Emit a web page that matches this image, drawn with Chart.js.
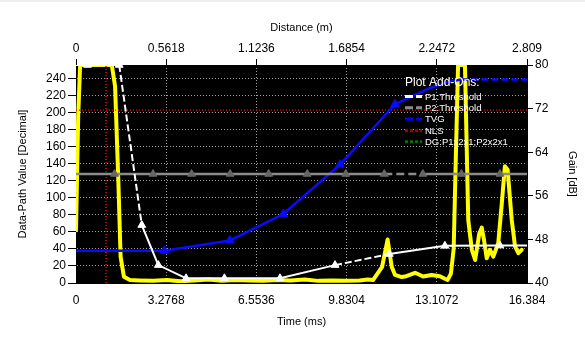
<!DOCTYPE html>
<html>
<head>
<meta charset="utf-8">
<script src="https://cdn.jsdelivr.net/npm/chart.js@4"></script>
<style>
  html, body { margin: 0; padding: 0; background: #fff; }
  #wrap { width: 585px; height: 345px; position: relative; }
</style>
</head>
<body>
<div id="wrap"><canvas id="c" width="585" height="345"></canvas></div>
<script>
// Axis tick values
const timeTicks = [0, 3.2768, 6.5536, 9.8304, 13.1072, 16.384];
const distanceTicks = [0, 0.5618, 1.1236, 1.6854, 2.2472, 2.809];
const valueTicks = [0, 20, 40, 60, 80, 100, 120, 140, 160, 180, 200, 220, 240];
const gainTicks = [40, 48, 56, 64, 72, 80];

// Received data-path signal (yellow trace)
const signalTime = [0, 0.08, 0.15, 1.30, 1.42, 1.54, 1.62, 1.74, 1.96, 2.3, 2.8, 3.3, 3.8, 4.3, 4.8, 5.3, 5.8, 6.3, 6.8, 7.3, 7.8, 8.3, 8.8, 9.3, 9.8, 10.3, 10.6, 10.79, 11.12, 11.32, 11.47, 11.59, 11.83, 12.0, 12.32, 12.61, 12.92, 13.22, 13.40, 13.50, 13.62, 13.72, 13.80, 13.88, 14.13, 14.25, 14.38, 14.50, 14.65, 14.74, 14.82, 14.92, 15.04, 15.16, 15.34, 15.47, 15.58, 15.68, 15.83, 15.95, 16.07, 16.19];
const signalValue = [62, 196, 256, 256, 231, 118, 31, 7.4, 3.5, 3, 2.5, 3.5, 2, 3, 4, 2.5, 3.5, 3, 2.5, 3.5, 3, 4, 2.5, 3, 2.5, 3, 4, 3.5, 19, 51, 19, 9.5, 7, 8, 12, 7.6, 9.5, 8, 5, 3.5, 11, 40, 150, 256, 256, 74, 39, 27, 58, 65, 51, 29, 39, 31, 47, 94, 137, 133, 74, 43, 35, 39];

// P1 threshold (white)
const p1Time = [0, 0.42, 1.57, 2.39, 2.99, 4.0, 5.39, 7.41, 9.41, 11.38, 13.4, 15.4, 16.384];
const p1Value = [256, 256, 256, 68, 21, 5.5, 5.5, 5.5, 21, 34, 43.6, 44, 44];
const p1Marked = [0, 1, 1, 1, 1, 1, 1, 1, 1, 1, 1, 1, 0];
const p1DashedSegments = [2, 8];

// P2 threshold (gray)
const p2Time = [0, 1.4, 2.8, 4.2, 5.6, 7.0, 8.4, 9.8, 11.2, 12.6, 14.0, 15.4, 16.384];
const p2Value = [128, 128, 128, 128, 128, 128, 128, 128, 128, 128, 128, 128, 128];
const p2Marked = [0, 1, 1, 1, 1, 1, 1, 1, 1, 1, 1, 1, 0];
const p2DashedSegments = [8];

// TVG curve (blue)
const tvgTime = [0, 3.21, 5.59, 7.53, 9.59, 11.59, 12.86, 13.5, 14.0, 16.384];
const tvgValue = [38, 38, 50, 81, 139, 210, 229, 236, 239, 239];
const tvgMarked = [0, 1, 1, 1, 1, 1, 0, 0, 0, 0];
const tvgDashedSegments = [8];

// NLS level and time marker (red)
const nlsLevel = 203;
const markerTime = 1.09;

// Legend entries
const legendTitle = 'Plot Add-Ons:';
const legendLabels = ['P1:Threshold', 'P2:Threshold', 'TVG', 'NLS', 'DG:P1x2x1;P2x2x1'];
const legendColors = ['#ffffff', '#8c8c8c', '#0000ff', '#a00000', '#007000'];

const toPoints = (xs, ys) => xs.map((x, i) => ({ x, y: ys[i] }));
const dashFor = (segs, dash) => ctx => segs.includes(ctx.p0DataIndex) ? dash : undefined;

const FONT = '"Liberation Sans", Arial, sans-serif';

const backdrop = {
  id: 'backdrop',
  beforeDraw(chart) {
    const { ctx, chartArea: a } = chart;
    ctx.save();
    ctx.fillStyle = '#f0f0f0';
    ctx.fillRect(0, 0, chart.width, 2);
    ctx.fillStyle = '#000';
    ctx.fillRect(a.left, a.top, a.right - a.left, a.bottom - a.top);
    ctx.restore();
  }
};

const addOnLegend = {
  id: 'addOnLegend',
  afterDatasetsDraw(chart) {
    const { ctx } = chart;
    ctx.save();
    ctx.fillStyle = '#fff';
    ctx.textBaseline = 'alphabetic';
    ctx.font = '12px ' + FONT;
    ctx.fillText(legendTitle, 405, 86);
    ctx.font = '9.5px ' + FONT;
    legendLabels.forEach((label, i) => {
      const y = 96.5 + i * 11.3;
      ctx.strokeStyle = legendColors[i];
      ctx.lineWidth = 3;
      ctx.setLineDash(i < 3 ? [8, 3] : [3, 2]);
      ctx.beginPath();
      ctx.moveTo(405, y);
      ctx.lineTo(422, y);
      ctx.stroke();
      ctx.setLineDash([]);
      ctx.fillStyle = '#fff';
      ctx.fillText(label, 425, y + 3.3);
    });
    ctx.restore();
  }
};

const fixTicks = values => scale => { scale.ticks = values.map(v => ({ value: v })); };

new Chart(document.getElementById('c'), {
  type: 'line',
  data: {
    datasets: [
      {
        data: toPoints(p1Time, p1Value),
        borderColor: '#ffffff', borderWidth: 2,
        pointStyle: 'triangle', pointRadius: p1Marked.map(m => m ? 4.5 : 0),
        pointBackgroundColor: '#ffffff', pointBorderColor: '#ffffff', pointBorderWidth: 1,
        segment: { borderDash: dashFor(p1DashedSegments, [7, 3]) }
      },
      {
        data: toPoints(p2Time, p2Value),
        borderColor: '#8c8c8c', borderWidth: 2.5,
        pointStyle: 'triangle', pointRadius: p2Marked.map(m => m ? 4.5 : 0),
        pointBackgroundColor: '#666666', pointBorderColor: '#666666', pointBorderWidth: 1,
        segment: { borderDash: dashFor(p2DashedSegments, [8, 4]) }
      },
      {
        data: toPoints(tvgTime, tvgValue),
        borderColor: '#0a0aff', borderWidth: 2.5,
        pointStyle: 'triangle', pointRadius: tvgMarked.map(m => m ? 5 : 0),
        pointBackgroundColor: '#0a0aff', pointBorderColor: '#0a0aff', pointBorderWidth: 1,
        segment: { borderDash: dashFor(tvgDashedSegments, [7, 3]) }
      },
      {
        data: [{ x: 0, y: nlsLevel }, { x: 16.384, y: nlsLevel }],
        borderColor: '#ff0000', borderWidth: 1.2, borderDash: [1, 2], pointRadius: 0
      },
      {
        data: [{ x: markerTime, y: 0 }, { x: markerTime, y: 256 }],
        borderColor: '#ff0000', borderWidth: 1.5, borderDash: [1, 2], pointRadius: 0
      },
      {
        data: toPoints(signalTime, signalValue),
        borderColor: '#ffff00', borderWidth: 4,
        borderJoinStyle: 'round', borderCapStyle: 'round', pointRadius: 0
      }
    ]
  },
  options: {
    responsive: false,
    animation: false,
    events: [],
    layout: { padding: 0 },
    plugins: { legend: { display: false }, tooltip: { enabled: false } },
    scales: {
      x: {
        type: 'linear', position: 'bottom', min: 0, max: 16.384,
        afterBuildTicks: fixTicks(timeTicks),
        afterFit: s => { s.height = 62; },
        ticks: { color: '#000', font: { family: FONT, size: 12 }, padding: 10, maxRotation: 0, autoSkip: false,
                 callback: v => String(v) },
        grid: { color: c => (c.index === 0 || c.index === timeTicks.length - 1) ? 'rgba(0,0,0,0)' : '#a0a0a0',
                lineWidth: 1, drawTicks: false },
        border: { display: true, color: '#000', dash: [1, 2] },
        title: { display: true, text: 'Time (ms)', color: '#000', font: { family: FONT, size: 11 }, padding: { top: 0, bottom: 16.7 } }
      },
      x2: {
        type: 'linear', position: 'top', min: 0, max: 2.809,
        afterBuildTicks: fixTicks(distanceTicks),
        afterFit: s => { s.height = 65; },
        ticks: { color: '#000', font: { family: FONT, size: 12 }, padding: 3, maxRotation: 0, autoSkip: false,
                 callback: v => String(v) },
        grid: { drawOnChartArea: false, tickColor: '#000', tickLength: 6, lineWidth: 1 },
        border: { display: true, color: '#000' },
        title: { display: true, text: 'Distance (m)', color: '#000', font: { family: FONT, size: 11 }, padding: { top: 21, bottom: 0 } }
      },
      y: {
        type: 'linear', position: 'left', min: 0, max: 256,
        afterBuildTicks: fixTicks(valueTicks),
        afterFit: s => { s.width = 76; },
        ticks: { color: '#000', font: { family: FONT, size: 12 }, padding: 2, autoSkip: false },
        grid: { color: c => c.index === 0 ? 'rgba(0,0,0,0)' : '#a0a0a0', tickColor: '#000', tickLength: 8,
                tickBorderDash: [], lineWidth: 1 },
        border: { display: true, color: '#000', dash: [1, 2] },
        title: { display: true, text: 'Data-Path Value [Decimal]', color: '#000', font: { family: FONT, size: 11 }, padding: { top: 16.4, bottom: 0 } }
      },
      y2: {
        type: 'linear', position: 'right', min: 40, max: 80,
        afterBuildTicks: fixTicks(gainTicks),
        afterFit: s => { s.width = 58; },
        ticks: { color: '#000', font: { family: FONT, size: 12 }, padding: 2, autoSkip: false },
        grid: { drawOnChartArea: false, tickColor: '#000', tickLength: 6, lineWidth: 1 },
        border: { display: true, color: '#000' },
        title: { display: true, text: 'Gain [dB]', color: '#000', font: { family: FONT, size: 11 }, padding: { top: 6.7, bottom: 0 } }
      }
    }
  },
  plugins: [backdrop, addOnLegend]
});
</script>
</body>
</html>
